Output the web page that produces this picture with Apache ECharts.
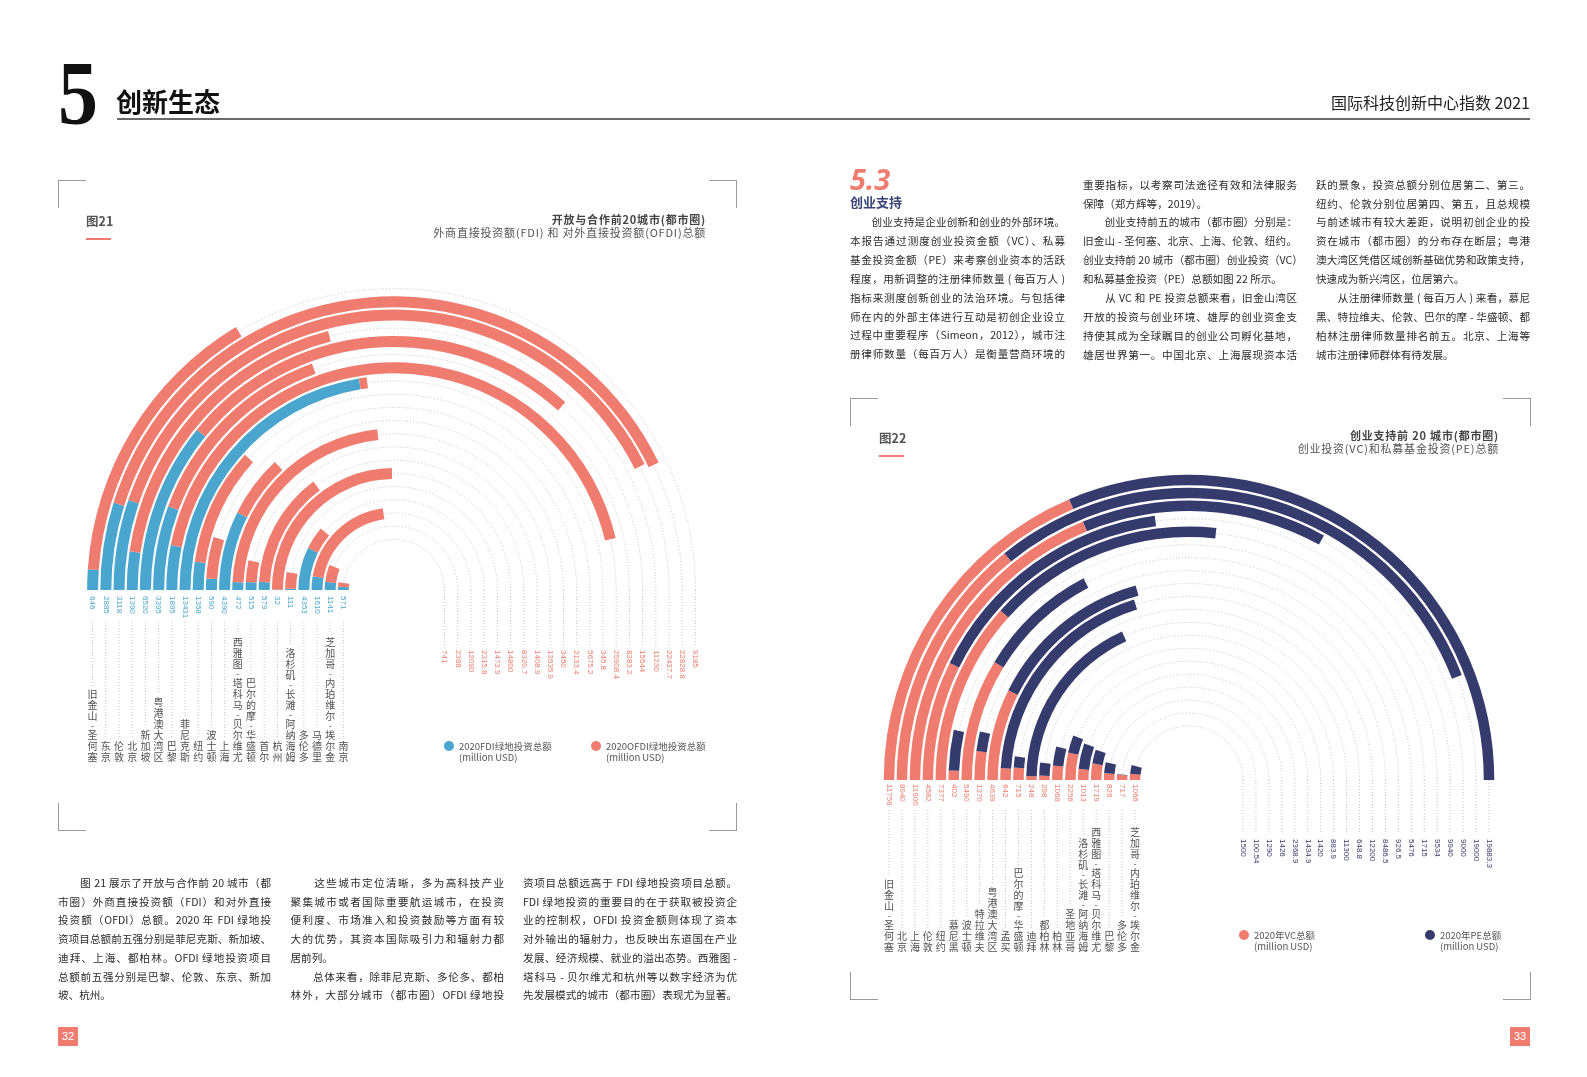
<!DOCTYPE html>
<html>
<head>
<meta charset="utf-8">
<script src="https://cdn.jsdelivr.net/npm/echarts@6/dist/echarts.min.js"></script>
<style>
html,body{margin:0;padding:0;background:#fff;}
#page{position:relative;width:1587px;height:1077px;overflow:hidden;font-family:"Noto Sans CJK SC","Noto Sans",sans-serif;color:#2a2a2a;}
#chart{position:absolute;left:0;top:0;width:1587px;height:1077px;}
.abs{position:absolute;white-space:nowrap;}
.ln{position:absolute;font-size:10.6px;line-height:14px;height:14px;white-space:nowrap;text-align:justify;text-align-last:justify;color:#2a2a2a;}
.ln.end{text-align:left;text-align-last:left;}
.cor{position:absolute;border-color:#9a9a9a;border-style:solid;border-width:0;}
</style>
</head>
<body>
<div id="page">
  <div id="chart"></div>
</div>
<script>
// ---------- Figure 21 data (outer ring -> inner ring) ----------
const cities21 = ['旧金山-圣何塞','东京','伦敦','北京','新加坡','粤港澳大湾区','巴黎','菲尼克斯','纽约','波士顿','上海','西雅图-塔科马-贝尔维尤','巴尔的摩-华盛顿','首尔','杭州','洛杉矶-长滩-阿纳海姆','多伦多','马德里','芝加哥-内珀维尔-埃尔金','南京'];
const fdi21  = [646, 2885, 3118, 1390, 6520, 3395, 1895, 13431, 1358, 590, 4390, 472, 515, 579, 32, 111, 4353, 1610, 1141, 571];
const ofdi21 = [9185, 22828.8, 22437.7, 11230, 15544, 8283.2, 25908.4, 345.8, 5675.2, 2133.4, 3450, 13535.9, 1408.9, 8320.7, 14800, 1473.9, 2315.8, 12090, 2368, 741];
const angleMax21 = 30000;

// ---------- Figure 22 data (outer ring -> inner ring) ----------
const cities22 = ['旧金山-圣何塞','北京','上海','伦敦','纽约','慕尼黑','波士顿','特拉维夫','粤港澳大湾区','孟买','巴尔的摩-华盛顿','迪拜','都柏林','柏林','圣地亚哥','洛杉矶-长滩-阿纳海姆','西雅图-塔科马-贝尔维尤','巴黎','多伦多','芝加哥-内珀维尔-埃尔金'];
const vc22 = [11758, 8940, 11900, 4582, 7377, 402, 5490, 1370, 4639, 642, 715, 248, 298, 1068, 2256, 1013, 1719, 826, 717, 1066];
const pe22 = [19883.3, 19000, 9000, 9940, 9534, 1715, 5476, 926.5, 8486.5, 12200, 648.8, 11300, 883.9, 1420, 1434.9, 2368.9, 1426, 1290, 100.54, 1500];

const BLUE = '#4ba6cf', RED = '#ef7c6e', NAVY = '#363b6e', GRID = '#c2c2c2';
const CJK = '"Noto Sans CJK SC","Noto Sans",sans-serif';
const NUMF = '"Liberation Sans Narrow","Liberation Sans",Arial,sans-serif';

const totals22 = vc22.map((v, i) => v + pe22[i]);
const angleMax22 = Math.max.apply(null, totals22);

// ---------- page text ----------
const page = document.getElementById('page');
function add(html, style, cls) {
  const d = document.createElement('div');
  d.className = cls || 'abs';
  d.setAttribute('style', style);
  d.innerHTML = html;
  page.appendChild(d);
  return d;
}
add('5', 'left:58px;top:47px;font:bold 92px/92px "Liberation Serif",serif;color:#111;transform:scaleX(0.87);transform-origin:left top;');
add('创新生态', 'left:116px;top:88px;font:bold 26px/26px ' + CJK + ';color:#111;');
add('', 'left:117px;top:118px;width:1413px;height:2px;background:#6a6a6a;');
add('国际科技创新中心指数 2021', 'right:57px;top:92px;font:16px/20px ' + CJK + ';color:#222;');

// corner brackets
function corners(x0, y0, x1, y1, arm) {
  add('', `left:${x0}px;top:${y0}px;width:${arm}px;height:${arm}px;border-left-width:1px;border-top-width:1px;`, 'cor');
  add('', `left:${x1 - arm}px;top:${y0}px;width:${arm}px;height:${arm}px;border-right-width:1px;border-top-width:1px;`, 'cor');
  add('', `left:${x0}px;top:${y1 - arm}px;width:${arm}px;height:${arm}px;border-left-width:1px;border-bottom-width:1px;`, 'cor');
  add('', `left:${x1 - arm}px;top:${y1 - arm}px;width:${arm}px;height:${arm}px;border-right-width:1px;border-bottom-width:1px;`, 'cor');
}
corners(58, 180, 736, 830, 27);
corners(850, 398, 1530, 999, 27);

// figure headers
add('图21', 'left:86px;top:214px;font:bold 12.5px/14px ' + CJK + ';color:#555;');
add('', 'left:86px;top:238px;width:25px;height:2px;background:' + RED + ';');
add('开放与合作前20城市(都市圈)', 'right:881px;top:212px;font:bold 11px/14px ' + CJK + ';color:#444;letter-spacing:0.8px;');
add('外商直接投资额(FDI) 和 对外直接投资额(OFDI)总额', 'right:881px;top:225px;font:11px/14px ' + CJK + ';color:#555;letter-spacing:0.8px;');
add('图22', 'left:879px;top:431px;font:bold 12.5px/14px ' + CJK + ';color:#555;');
add('', 'left:879px;top:455px;width:25px;height:2px;background:' + RED + ';');
add('创业支持前 20 城市(都市圈)', 'right:88px;top:428px;font:bold 11px/14px ' + CJK + ';color:#444;letter-spacing:0.8px;');
add('创业投资(VC)和私募基金投资(PE)总额', 'right:88px;top:441px;font:11px/14px ' + CJK + ';color:#555;letter-spacing:0.8px;');

// section heading
add('5.3', 'left:850px;top:164px;font:italic bold 29px/29px "Noto Sans","Open Sans",sans-serif;color:' + RED + ';');
add('创业支持', 'left:850px;top:195px;font:bold 13px/14px ' + CJK + ';color:#3a4478;');

// paragraphs: [text, isParagraphEnd]
function column(x, w, y0, step, lines) {
  lines.forEach((l, k) => {
    const d = add(l[0], `left:${x}px;top:${(y0 + k * step - 7.6).toFixed(1)}px;width:${w}px;`, 'ln' + (l[1] ? ' end' : ''));
  });
}
column(850, 215, 222.6, 18.9, [
  ['　　创业支持是企业创新和创业的外部环境。'],
  ['本报告通过测度创业投资金额（VC）、私募'],
  ['基金投资金额（PE）来考察创业资本的活跃'],
  ['程度，用新调整的注册律师数量 ( 每百万人 )'],
  ['指标来测度创新创业的法治环境。与包括律'],
  ['师在内的外部主体进行互动是初创企业设立'],
  ['过程中重要程序（Simeon，2012），城市注'],
  ['册律师数量（每百万人）是衡量营商环境的']
]);
column(1083, 214, 185.2, 18.9, [
  ['重要指标，以考察司法途径有效和法律服务'],
  ['保障（郑方辉等，2019）。', 1],
  ['　　创业支持前五的城市（都市圈）分别是：'],
  ['旧金山 - 圣何塞、北京、上海、伦敦、纽约。'],
  ['创业支持前 20 城市（都市圈）创业投资（VC）'],
  ['和私募基金投资（PE）总额如图 22 所示。', 1],
  ['　　从 VC 和 PE 投资总额来看，旧金山湾区'],
  ['开放的投资与创业环境、雄厚的创业资金支'],
  ['持使其成为全球瞩目的创业公司孵化基地，'],
  ['雄居世界第一。中国北京、上海展现资本活']
]);
column(1316, 214, 185.2, 18.9, [
  ['跃的景象，投资总额分别位居第二、第三。'],
  ['纽约、伦敦分别位居第四、第五，且总规模'],
  ['与前述城市有较大差距，说明初创企业的投'],
  ['资在城市（都市圈）的分布存在断层；粤港'],
  ['澳大湾区凭借区域创新基础优势和政策支持，'],
  ['快速成为新兴湾区，位居第六。', 1],
  ['　　从注册律师数量 ( 每百万人 ) 来看，慕尼'],
  ['黑、特拉维夫、伦敦、巴尔的摩 - 华盛顿、都'],
  ['柏林注册律师数量排名前五。北京、上海等'],
  ['城市注册律师群体有待发展。', 1]
]);
column(58, 213, 883.5, 18.75, [
  ['　　图 21 展示了开放与合作前 20 城市（都'],
  ['市圈）外商直接投资额（FDI）和对外直接'],
  ['投资额（OFDI）总额。2020 年 FDI 绿地投'],
  ['资项目总额前五强分别是菲尼克斯、新加坡、'],
  ['迪拜、上海、都柏林。OFDI 绿地投资项目'],
  ['总额前五强分别是巴黎、伦敦、东京、新加'],
  ['坡、杭州。', 1]
]);
column(290.5, 213.5, 883.5, 18.75, [
  ['　　这些城市定位清晰，多为高科技产业'],
  ['聚集城市或者国际重要航运城市，在投资'],
  ['便利度、市场准入和投资鼓励等方面有较'],
  ['大的优势，其资本国际吸引力和辐射力都'],
  ['居前列。', 1],
  ['　　总体来看，除菲尼克斯、多伦多、都柏'],
  ['林外，大部分城市（都市圈）OFDI 绿地投']
]);
column(523, 214, 883.5, 18.75, [
  ['资项目总额远高于 FDI 绿地投资项目总额。'],
  ['FDI 绿地投资的重要目的在于获取被投资企'],
  ['业的控制权，OFDI 投资金额则体现了资本'],
  ['对外输出的辐射力，也反映出东道国在产业'],
  ['发展、经济规模、就业的溢出态势。西雅图 -'],
  ['塔科马 - 贝尔维尤和杭州等以数字经济为优'],
  ['先发展模式的城市（都市圈）表现尤为显著。']
]);

// page numbers
add('32', 'left:58px;top:1027px;width:20px;height:19px;background:' + RED + ';color:#fff;font:11px/19px "Liberation Sans",sans-serif;text-align:center;');
add('33', 'left:1510px;top:1027px;width:20px;height:19px;background:' + RED + ';color:#fff;font:11px/19px "Liberation Sans",sans-serif;text-align:center;');

// ---------- chart ----------
function cityText(name) {
  return name.split('-').map(p => p.split('').join('\n')).join('\n{d|-}\n');
}
function cityHeight(name) {
  const parts = name.split('-');
  return parts.join('').length * 11 + (parts.length - 1) * 8;
}
function makeRender(cfg) {
  return function (params, api) {
    const i = api.value(0);
    const cs = params.coordSys;
    const p = api.coord([i, 0]);
    const cx = cs.cx, cy = cs.cy;
    const r = Math.hypot(p[0] - cx, p[1] - cy);
    const xl = cx - r, xr = cx + r;
    const name = cfg.cities[i];
    const top = cfg.cityBottom - cityHeight(name);
    const dash = [1, 2];
    return {
      type: 'group',
      children: [
        { type: 'arc', shape: { cx: cx, cy: cy, r: r, startAngle: Math.PI, endAngle: Math.PI * 2, clockwise: true },
          style: { stroke: GRID, fill: null, lineWidth: 1, lineDash: dash } },
        { type: 'line', shape: { x1: xr, y1: cy, x2: xr, y2: cfg.rightLineEnd },
          style: { stroke: GRID, lineWidth: 1, lineDash: dash } },
        { type: 'line', shape: { x1: xl, y1: cfg.leftLineTop, x2: xl, y2: top - 3 },
          style: { stroke: GRID, lineWidth: 1, lineDash: dash } },
        { type: 'text', x: xr, y: cfg.rightLabelTop, rotation: -Math.PI / 2,
          style: { text: String(cfg.rightVals[i]), fill: cfg.rightColor, fontSize: 8, fontFamily: NUMF, align: 'left', verticalAlign: 'middle' } },
        { type: 'text', x: xl, y: cfg.leftLabelTop, rotation: -Math.PI / 2,
          style: { text: String(cfg.leftVals[i]), fill: cfg.leftColor, fontSize: 8, fontFamily: NUMF, align: 'left', verticalAlign: 'middle' } },
        { type: 'text', x: xl, y: cfg.cityBottom,
          style: { text: cityText(name), fill: '#505050', fontSize: 10, fontFamily: CJK, lineHeight: 11,
                   align: 'center', verticalAlign: 'bottom',
                   rich: { d: { lineHeight: 8, fontSize: 9, fill: '#505050', fontFamily: CJK } } } }
      ]
    };
  };
}

const cfg21 = { cities: cities21, leftVals: fdi21, rightVals: ofdi21, leftColor: BLUE, rightColor: RED,
  leftLabelTop: 596, leftLineTop: 622, cityBottom: 763, rightLineEnd: 645, rightLabelTop: 650 };
const cfg22 = { cities: cities22, leftVals: vc22, rightVals: pe22, leftColor: RED, rightColor: NAVY,
  leftLabelTop: 784, leftLineTop: 810, cityBottom: 953, rightLineEnd: 834, rightLabelTop: 839 };

const hiddenAngle = { type: 'value', min: 0, startAngle: 180, endAngle: 0, clockwise: true,
  axisLine: { show: false }, axisTick: { show: false }, axisLabel: { show: false }, splitLine: { show: false } };
const hiddenRadius = { type: 'category', inverse: true,
  axisLine: { show: false }, axisTick: { show: false }, axisLabel: { show: false }, splitLine: { show: false } };
const legText = { fontSize: 9.5, color: '#555', fontFamily: 'Noto Sans CJK SC' };
function leg(name, left, top) {
  return { data: [name], left: left, top: top, icon: 'circle', itemWidth: 10, itemHeight: 10, itemGap: 0,
    padding: 0, selectedMode: false, textStyle: legText };
}

const option = {
  animation: false,
  polar: [
    { center: [394, 590], radius: [44, 308] },
    { center: [1189, 780], radius: [47.5, 306.5] }
  ],
  angleAxis: [
    Object.assign({}, hiddenAngle, { polarIndex: 0, max: angleMax21 }),
    Object.assign({}, hiddenAngle, { polarIndex: 1, max: angleMax22 })
  ],
  radiusAxis: [
    Object.assign({}, hiddenRadius, { polarIndex: 0, data: cities21 }),
    Object.assign({}, hiddenRadius, { polarIndex: 1, data: cities22 })
  ],
  legend: [
    leg('2020FDI绿地投资总额', 444, 741),
    leg('2020OFDI绿地投资总额', 591, 741),
    leg('2020年VC总额', 1239, 930),
    leg('2020年PE总额', 1425, 930)
  ],
  graphic: [
    { type: 'text', left: 459, top: 753, style: { text: '(million USD)', fontSize: 9.5, fill: '#555', fontFamily: CJK } },
    { type: 'text', left: 606, top: 753, style: { text: '(million USD)', fontSize: 9.5, fill: '#555', fontFamily: CJK } },
    { type: 'text', left: 1254, top: 942, style: { text: '(million USD)', fontSize: 9.5, fill: '#555', fontFamily: CJK } },
    { type: 'text', left: 1440, top: 942, style: { text: '(million USD)', fontSize: 9.5, fill: '#555', fontFamily: CJK } }
  ],
  series: [
    { type: 'custom', coordinateSystem: 'polar', polarIndex: 0, silent: true, z: 1,
      data: cities21.map((c, i) => [i, 0]), renderItem: makeRender(cfg21) },
    { type: 'bar', name: '2020FDI绿地投资总额', coordinateSystem: 'polar', polarIndex: 0, stack: 'f21',
      data: fdi21, barWidth: 11, itemStyle: { color: BLUE }, z: 2, silent: true },
    { type: 'bar', name: '2020OFDI绿地投资总额', coordinateSystem: 'polar', polarIndex: 0, stack: 'f21',
      data: ofdi21, barWidth: 11, itemStyle: { color: RED }, z: 2, silent: true },
    { type: 'custom', coordinateSystem: 'polar', polarIndex: 1, silent: true, z: 1,
      data: cities22.map((c, i) => [i, 0]), renderItem: makeRender(cfg22) },
    { type: 'bar', name: '2020年VC总额', coordinateSystem: 'polar', polarIndex: 1, stack: 'f22',
      data: vc22, barWidth: 10.5, itemStyle: { color: RED }, z: 2, silent: true },
    { type: 'bar', name: '2020年PE总额', coordinateSystem: 'polar', polarIndex: 1, stack: 'f22',
      data: pe22, barWidth: 10.5, itemStyle: { color: NAVY }, z: 2, silent: true }
  ]
};
const chart = echarts.init(document.getElementById('chart'), null, { renderer: 'canvas' });
chart.setOption(option);
</script>
</body>
</html>
